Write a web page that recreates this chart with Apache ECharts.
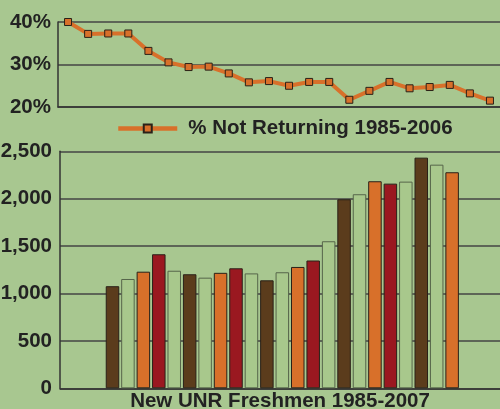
<!DOCTYPE html>
<html>
<head>
<meta charset="utf-8">
<script src="https://cdn.jsdelivr.net/npm/echarts@6/dist/echarts.min.js"></script>
<style>
  html, body { margin: 0; padding: 0; background: #a8c790; }
  #chart { width: 500px; height: 409px; }
</style>
</head>
<body>
<div id="chart"></div>
<script>
// % of freshmen not returning, 1985-2006
const retYears = ["1985", "1986", "1987", "1988", "1989", "1990", "1991", "1992", "1993", "1994", "1995",
  "1996", "1997", "1998", "1999", "2000", "2001", "2002", "2003", "2004", "2005", "2006"];
const notReturning = [40.0, 37.2, 37.3, 37.3, 33.2, 30.5, 29.4, 29.5, 27.9, 25.8, 26.1,
  25.0, 25.9, 25.9, 21.7, 23.8, 25.9, 24.4, 24.7, 25.2, 23.2, 21.5];

// new freshmen, 1985-2007
const freshYears = [1985, 1986, 1987, 1988, 1989, 1990, 1991, 1992, 1993, 1994, 1995, 1996,
  1997, 1998, 1999, 2000, 2001, 2002, 2003, 2004, 2005, 2006, 2007];
const freshmen = [1077, 1153, 1230, 1414, 1240, 1203, 1167, 1218, 1266, 1212, 1139, 1224,
  1280, 1348, 1551, 1994, 2047, 2184, 2159, 2180, 2433, 2359, 2279];

const pctTicks = [20, 30, 40];
const countTicks = [0, 500, 1000, 1500, 2000, 2500];

const ink = "#222";
const orange = "#d8702a";
const barColors = ["#5b3c1c", "#a8c88c", orange, "#9a1820", "#a8c88c"];
const barBorders = ["#2a2118", "#56654a", "#2a2118", "#2a2118", "#56654a"];

const chart = echarts.init(document.getElementById("chart"));

chart.setOption({
  backgroundColor: "#a8c790",
  animation: false,
  textStyle: { fontFamily: "Liberation Sans" },
  legend: {
    data: ["% Not Returning 1985-2006"],
    left: 111,
    top: 113,
    itemWidth: 59,
    itemHeight: 10,
    lineStyle: { width: 4.5 },
    textStyle: { fontSize: 20.5, fontWeight: "bold", color: ink, padding: [0, 0, 0, 6] }
  },
  grid: [
    { left: 58, right: 0, top: 22, height: 85, outerBoundsMode: "none", containLabel: false },
    { left: 60, right: 0, top: 151.3, height: 237, outerBoundsMode: "none", containLabel: false }
  ],
  xAxis: [
    {
      gridIndex: 0,
      type: "category",
      data: retYears,
      axisLine: { lineStyle: { color: "#333", width: 1.5 } },
      axisTick: { inside: true, length: 3, lineStyle: { color: "#333" } },
      axisLabel: { show: false }
    },
    {
      gridIndex: 1,
      type: "value",
      min: 1981.6,
      max: 2010.1,
      axisLine: { show: true, onZero: false, lineStyle: { color: "#333", width: 1.5 } },
      axisTick: { show: false },
      axisLabel: { show: false },
      splitLine: { show: false },
      name: "New UNR Freshmen 1985-2007",
      nameLocation: "middle",
      nameGap: 3,
      nameTextStyle: { fontSize: 20.5, fontWeight: "bold", color: ink, verticalAlign: "top" }
    }
  ],
  yAxis: [
    {
      gridIndex: 0,
      type: "value",
      min: pctTicks[0],
      max: pctTicks[pctTicks.length - 1],
      interval: 10,
      axisLine: { show: true, lineStyle: { color: "#333", width: 1.5 } },
      axisTick: { show: false },
      axisLabel: {
        formatter: "{value}%",
        fontSize: 20.5,
        fontWeight: "bold",
        color: ink,
        margin: 7,
        padding: [0, 0, 8, 0]
      },
      splitLine: { lineStyle: { color: "#444", width: 1.5 } }
    },
    {
      gridIndex: 1,
      type: "value",
      min: countTicks[0],
      max: countTicks[countTicks.length - 1],
      interval: 500,
      axisLine: { show: true, lineStyle: { color: "#333", width: 1.5 } },
      axisTick: { show: false },
      axisLabel: {
        formatter: v => v.toLocaleString("en-US"),
        fontSize: 20.5,
        fontWeight: "bold",
        color: ink,
        margin: 8
      },
      splitLine: { lineStyle: { color: "#444", width: 1.5 } }
    }
  ],
  series: [
    {
      name: "% Not Returning 1985-2006",
      type: "line",
      xAxisIndex: 0,
      yAxisIndex: 0,
      data: notReturning,
      symbol: "rect",
      symbolSize: 7,
      lineStyle: { color: orange, width: 4 },
      itemStyle: { color: orange, borderColor: "#2a2118", borderWidth: 1 }
    },
    {
      name: "New UNR Freshmen",
      type: "bar",
      xAxisIndex: 1,
      yAxisIndex: 1,
      barWidth: 13.5,
      data: freshYears.map((y, i) => ({
        value: [y, freshmen[i]],
        itemStyle: { color: barColors[i % 5], borderColor: barBorders[i % 5], borderWidth: 1 }
      }))
    }
  ]
});
</script>
</body>
</html>
